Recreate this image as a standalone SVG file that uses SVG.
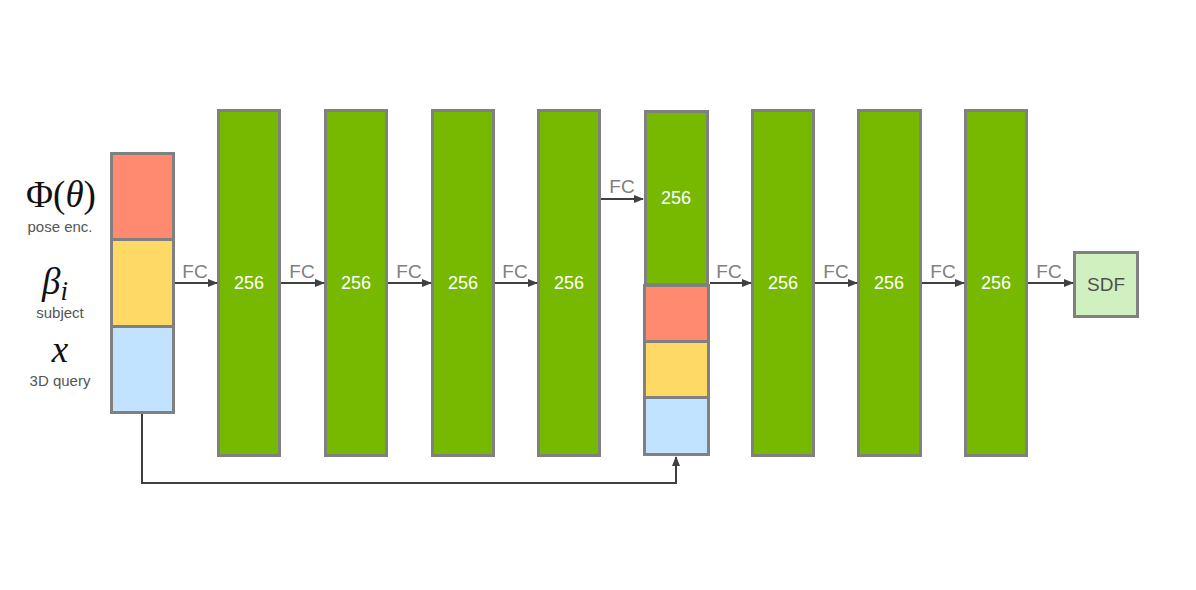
<svg xmlns="http://www.w3.org/2000/svg" width="1196" height="590" viewBox="0 0 1196 590">
<defs>
<marker id="ah" markerWidth="10" markerHeight="8" refX="9" refY="4" orient="auto" markerUnits="userSpaceOnUse">
<path d="M0,0 L10,4 L0,8 Z" fill="#404040"/>
</marker>
<style>
.b{stroke:#808080;stroke-width:3}
.g{fill:#76b900}
.r{fill:#ff8a70}
.y{fill:#ffd966}
.u{fill:#c2e3ff}
.n{font-family:"Liberation Sans",Arial,sans-serif;font-size:18px;fill:#ffffff;text-anchor:middle}
.fc{font-family:"Liberation Sans",Arial,sans-serif;font-size:19px;fill:#808080;text-anchor:middle}
.lb{font-family:"Liberation Sans",Arial,sans-serif;font-size:15px;fill:#555555;text-anchor:middle}
.m{font-family:"Liberation Serif","Times New Roman",serif;font-size:37px;fill:#111111;text-anchor:middle}
.c{stroke:#404040;stroke-width:2;fill:none}
</style>
</defs>
<rect width="1196" height="590" fill="#ffffff"/>
<g id="labels">
<text class="m" x="61" y="207">Φ(<tspan font-style="italic">θ</tspan>)</text>
<text class="lb" x="60" y="232">pose enc.</text>
<text class="m" x="55" y="294" font-style="italic">β<tspan font-size="27" dy="6">i</tspan></text>
<text class="lb" x="60" y="318">subject</text>
<text class="m" x="60" y="362" font-style="italic">x</text>
<text class="lb" x="60" y="386">3D query</text>
</g>
<g id="input">
<rect class="b r" x="111.5" y="153.5" width="62" height="86"/>
<rect class="b y" x="111.5" y="239.5" width="62" height="87"/>
<rect class="b u" x="111.5" y="326.5" width="62" height="86"/>
</g>
<g id="l1"><rect class="b g" x="218.5" y="110.5" width="61" height="345"/><text class="n" x="249" y="289">256</text></g>
<g id="l2"><rect class="b g" x="325.5" y="110.5" width="61" height="345"/><text class="n" x="356" y="289">256</text></g>
<g id="l3"><rect class="b g" x="432.5" y="110.5" width="61" height="345"/><text class="n" x="463" y="289">256</text></g>
<g id="l4"><rect class="b g" x="538.5" y="110.5" width="61" height="345"/><text class="n" x="569" y="289">256</text></g>
<g id="l5">
<rect class="b g" x="645.5" y="111.5" width="62" height="173"/>
<text class="n" x="676" y="204">256</text>
<rect class="b r" x="644.5" y="285.5" width="64" height="56"/>
<rect class="b y" x="644.5" y="341.5" width="64" height="56"/>
<rect class="b u" x="644.5" y="397.5" width="64" height="57"/>
</g>
<g id="l6"><rect class="b g" x="752.5" y="110.5" width="61" height="345"/><text class="n" x="783" y="289">256</text></g>
<g id="l7"><rect class="b g" x="858.5" y="110.5" width="62" height="345"/><text class="n" x="889" y="289">256</text></g>
<g id="l8"><rect class="b g" x="965.5" y="110.5" width="61" height="345"/><text class="n" x="996" y="289">256</text></g>
<g id="sdf"><rect class="b" x="1074.5" y="252.5" width="63" height="64" fill="#d0f0c0"/><text x="1106" y="291" font-family="'Liberation Sans',Arial,sans-serif" font-size="19" fill="#505050" text-anchor="middle">SDF</text></g>
<g id="connectors">
<line class="c" x1="175" y1="283" x2="217" y2="283" marker-end="url(#ah)"/>
<line class="c" x1="281" y1="283" x2="324" y2="283" marker-end="url(#ah)"/>
<line class="c" x1="388" y1="283" x2="431" y2="283" marker-end="url(#ah)"/>
<line class="c" x1="495" y1="283" x2="537" y2="283" marker-end="url(#ah)"/>
<line class="c" x1="601" y1="199" x2="643" y2="199" marker-end="url(#ah)"/>
<line class="c" x1="710" y1="283" x2="751" y2="283" marker-end="url(#ah)"/>
<line class="c" x1="815" y1="283" x2="857" y2="283" marker-end="url(#ah)"/>
<line class="c" x1="922" y1="283" x2="964" y2="283" marker-end="url(#ah)"/>
<line class="c" x1="1028" y1="283" x2="1073" y2="283" marker-end="url(#ah)"/>
<polyline class="c" points="142,414 142,483 676,483 676,457" marker-end="url(#ah)"/>
<text class="fc" x="195" y="278">FC</text>
<text class="fc" x="302" y="278">FC</text>
<text class="fc" x="409" y="278">FC</text>
<text class="fc" x="515" y="278">FC</text>
<text class="fc" x="622" y="193">FC</text>
<text class="fc" x="729" y="278">FC</text>
<text class="fc" x="836" y="278">FC</text>
<text class="fc" x="943" y="278">FC</text>
<text class="fc" x="1049" y="278">FC</text>
</g>
</svg>
